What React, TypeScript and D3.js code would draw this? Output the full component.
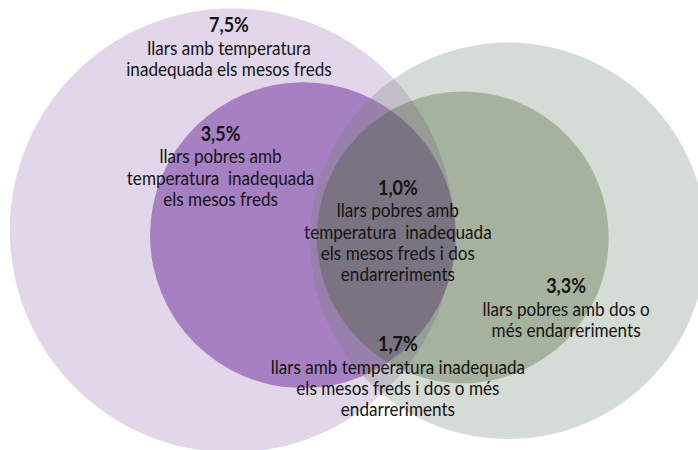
import * as d3 from 'd3'
import { useRef, useEffect } from 'react'

// circles of the diagram (outer sets first, drawn bottom to top)
const setNames = [
  'Llars amb temperatura inadequada',
  'Llars pobres amb temperatura inadequada',
  'Llars amb dos o més endarreriments',
  'Llars pobres amb dos o més endarreriments',
]
const setFills = ['#e2d6eb', '#a77fc3', 'rgb(115,135,115)', 'rgb(56,82,33)']
const setOpacity = [1, 1, 0.3, 0.3]

// region labels
const regionValues = [7.5, 3.5, 1.0, 3.3, 1.7]
const regionLabels = [
  ['llars amb temperatura', 'inadequada els mesos freds'],
  ['llars pobres amb', 'temperatura  inadequada', 'els mesos freds'],
  ['llars pobres amb', 'temperatura  inadequada', 'els mesos freds i dos', 'endarreriments'],
  ['llars pobres amb dos o', 'més endarreriments'],
  ['llars amb temperatura inadequada', 'els mesos freds i dos o més', 'endarreriments'],
]

const width = 698
const height = 450

// layout in diagram units (0..100 across, 0..64.5 down)
const circleLayout = [
  { cx: 33.2, cy: 33.0, r: 31.8 },
  { cx: 43.4, cy: 33.7, r: 21.9 },
  { cx: 72.8, cy: 34.5, r: 28.4 },
  { cx: 66.3, cy: 34.0, r: 20.9 },
]
const labelLayout = [
  { x: 32.8, y: 4.6 },
  { x: 31.6, y: 20.2 },
  { x: 57.0, y: 27.9 },
  { x: 81.1, y: 42.0 },
  { x: 57.0, y: 50.3 },
]

const pct = d3.formatLocale({ decimal: ',', thousands: '.', grouping: [3], currency: ['', '€'] }).format('.1f')

const Venn = () => {
  const svgRef = useRef(null)

  useEffect(() => {
    drawVenn()
  }, [])

  function drawVenn() {
    const svg = d3.select(svgRef.current)
    svg.selectAll('*').remove() // clear

    const x = d3.scaleLinear().domain([0, 100]).range([0, width])
    const k = x(1) - x(0)
    const y = d3.scaleLinear().domain([0, 1]).range([0, k])

    svg
      .append('g')
      .selectAll('circle')
      .data(circleLayout)
      .enter()
      .append('circle')
      .attr('cx', d => x(d.cx))
      .attr('cy', d => y(d.cy))
      .attr('r', d => d.r * k)
      .attr('fill', (d, i) => setFills[i])
      .attr('fill-opacity', (d, i) => setOpacity[i])
      .append('title')
      .text((d, i) => setNames[i])

    const lineH = 21.4
    const labels = svg
      .append('g')
      .selectAll('g')
      .data(regionValues)
      .enter()
      .append('g')
      .attr('transform', (d, i) => `translate(${x(labelLayout[i].x)},${y(labelLayout[i].y)}) scale(0.9,1)`)
      .attr('text-anchor', 'middle')
      .attr('font-family', 'Lato, "Open Sans", sans-serif')
      .attr('fill', '#141414')

    labels
      .append('text')
      .attr('font-size', 20)
      .attr('font-weight', 'bold')
      .text(d => pct(d) + '%')

    labels.each(function (d, i) {
      d3.select(this)
        .selectAll('text.line')
        .data(regionLabels[i])
        .enter()
        .append('text')
        .attr('class', 'line')
        .attr('y', (t, j) => 22.5 + j * lineH)
        .attr('font-size', 19)
        .attr('xml:space', 'preserve')
        .style('white-space', 'pre')
        .text(t => t)
    })
  }

  return (
    <svg
      ref={svgRef}
      width={width}
      height={height}
      style={{ position: 'absolute', left: 0, top: 0, background: '#fff' }}
    ></svg>
  )
}

export default function App() {
  return <Venn />
}
